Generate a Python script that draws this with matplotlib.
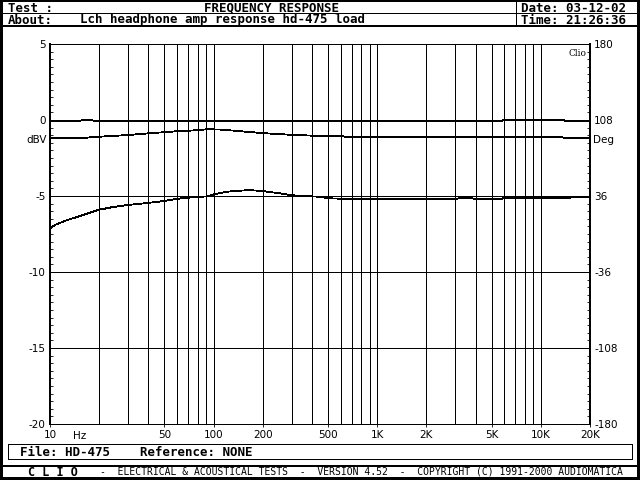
import matplotlib
matplotlib.use('Agg')
import matplotlib.pyplot as plt
from matplotlib.patches import Rectangle
from matplotlib.lines import Line2D
from matplotlib.ticker import MultipleLocator, FixedLocator, NullFormatter

plt.rcParams['lines.antialiased'] = False
plt.rcParams['patch.antialiased'] = False

# header / footer strings
test_title = "FREQUENCY RESPONSE"
about_text = "Lch headphone amp response hd-475 load"
date_text = "Date: 03-12-02"
time_text = "Time: 21:26:36"
file_text = "File: HD-475    Reference: NONE"
footer_text = "-  ELECTRICAL & ACOUSTICAL TESTS  -  VERSION 4.52  -  COPYRIGHT (C) 1991-2000 AUDIOMATICA"

# x ticks
xtick_freqs = [10, 50, 100, 200, 500, 1000, 2000, 5000, 10000, 20000]
xtick_labels = ['10', '50', '100', '200', '500', '1K', '2K', '5K', '10K', '20K']
# left (dBV) and right (Deg) ticks
db_ticks = [5, 0, -5, -10, -15, -20]
deg_ticks = [180, 108, 36, -36, -108, -180]

# curve
freq_a = [10, 15, 17, 19, 50, 1000, 5800, 5900, 13900, 14000, 20000]
db_a = [-0.06, -0.06, 0.03, -0.06, -0.06, -0.06, -0.06, -0.01, -0.01, -0.06, -0.06]

# curve just below 0 dB
freq_b = [10, 15, 20, 30, 42, 60, 77, 92, 110, 140, 165, 200, 250, 340, 480,
          620, 680, 13500, 14500, 20000]
db_b = [-1.20, -1.20, -1.10, -0.99, -0.86, -0.74, -0.68, -0.61, -0.63, -0.72,
        -0.79, -0.86, -0.93, -1.00, -1.06, -1.08, -1.14, -1.14, -1.20, -1.20]

# curve around -5 dB
freq_c = [10, 10.7, 12.3, 14.8, 17, 19.6, 23.9, 29.9, 37.9, 48.2, 60.4, 76.6,
          90.6, 101, 120, 164, 199, 229, 263, 302, 358, 428, 510, 675, 1346,
          2970, 3280, 3650, 4170, 5700, 5860, 14900, 15600, 20000]
db_c = [-7.13, -6.91, -6.64, -6.36, -6.14, -5.92, -5.74, -5.59, -5.48, -5.35,
        -5.18, -5.07, -5.03, -4.89, -4.72, -4.61, -4.67, -4.76, -4.85, -4.95,
        -5.00, -5.04, -5.15, -5.20, -5.20, -5.20, -5.12, -5.14, -5.20, -5.20,
        -5.15, -5.15, -5.04, -5.04]

W, H = 640, 480
LW = 0.6  # one pixel at 100 dpi
fig = plt.figure(figsize=(6.4, 4.8), dpi=100)
fig.patch.set_facecolor('white')


def fx(x):
    return x / W


def fy(y):
    return 1 - y / H


def hline(y, x0=0, x1=W, lw=LW):
    fig.add_artist(Line2D([fx(x0), fx(x1)], [fy(y), fy(y)], color='black', lw=lw))


def vline(x, y0, y1, lw=LW):
    fig.add_artist(Line2D([fx(x), fx(x)], [fy(y0), fy(y1)], color='black', lw=lw))


def bar(x0, y0, x1, y1):
    fig.add_artist(Rectangle((fx(x0), fy(y1)), fx(x1) - fx(x0), fy(y0) - fy(y1),
                             facecolor='black', edgecolor='none'))


# outer frame
bar(0, 0, 3, 480)
bar(637, 0, 640, 480)
bar(0, 0, 640, 1.5)
bar(0, 477, 640, 480)

# header
hline(13)
bar(0, 25, 640, 26.5)
vline(516, 0, 26)
mono_b = dict(family='DejaVu Sans Mono', weight='bold', fontsize=9, va='center')
fig.text(fx(8), fy(8), "Test :", **mono_b)
fig.text(fx(271), fy(8), test_title, ha='center', **mono_b)
fig.text(fx(521), fy(8), date_text, **mono_b)
fig.text(fx(8), fy(20), "About:", **mono_b)
fig.text(fx(80), fy(20), about_text, **mono_b)
fig.text(fx(521), fy(20), time_text, **mono_b)

# file box
fig.add_artist(Rectangle((fx(8), fy(459)), fx(632) - fx(8), fy(444) - fy(459),
                         facecolor='none', edgecolor='black', lw=LW))
fig.text(fx(20), fy(452), file_text, **mono_b)

# footer
bar(0, 465, 640, 466.5)
fig.text(fx(28), fy(472), "C L I O", family='DejaVu Sans Mono', weight='bold',
         fontsize=8.5, va='center')
fig.text(fx(100), fy(472), footer_text, family='DejaVu Sans Mono', fontsize=7,
         va='center')

# plot area
ax = fig.add_axes([fx(50), fy(424), fx(590) - fx(50), fy(44) - fy(424)])
ax.set_xscale('log')
ax.set_xlim(10, 20000)
ax.set_ylim(-20, 5)

grid_freqs = [d * m for d in (10, 100, 1000, 10000) for m in range(1, 10)
              if 10 < d * m < 20000]
for f in grid_freqs:
    ax.axvline(f, color='black', lw=LW, zorder=1)
for v in db_ticks[1:-1]:
    ax.axhline(v, color='black', lw=LW, zorder=1)

ax.plot(freq_a, db_a, color='black', lw=LW, zorder=3)
ax.plot(freq_b, db_b, color='black', lw=LW, zorder=3)
ax.plot(freq_c, db_c, color='black', lw=LW, zorder=3)

for side in ('left', 'right'):
    ax.spines[side].set_linewidth(1.4)
for side in ('top', 'bottom'):
    ax.spines[side].set_linewidth(LW)

tick_font = dict(family='DejaVu Sans', fontsize=7.5)
ax.xaxis.set_major_locator(FixedLocator(xtick_freqs))
ax.xaxis.set_minor_locator(FixedLocator([]))
ax.set_xticklabels(xtick_labels, **tick_font)
ax.xaxis.set_minor_formatter(NullFormatter())
ax.tick_params(axis='x', direction='out', length=2.5, width=LW, pad=2)

ax.set_yticks(db_ticks)
ax.set_yticklabels([str(v) for v in db_ticks], **tick_font)
ax.yaxis.set_minor_locator(MultipleLocator(0.5))
ax.tick_params(axis='y', which='major', length=0, pad=3)
ax.tick_params(axis='y', which='minor', direction='in', length=2.5, width=LW)
ax.text(-0.006, (-1.3 + 20) / 25, "dBV", transform=ax.transAxes, ha='right',
        va='center', **tick_font)
fig.text(fx(80), fy(436), "Hz", ha='center', va='center', **tick_font)

ax2 = ax.twinx()
ax2.set_ylim(-180, 180)
ax2.set_yticks(deg_ticks)
ax2.set_yticklabels([str(v) for v in deg_ticks], **tick_font)
ax2.yaxis.set_minor_locator(MultipleLocator(7.2))
ax2.tick_params(axis='y', which='major', length=0, pad=3)
ax2.tick_params(axis='y', which='minor', direction='in', length=2.5, width=LW)
for side in ax2.spines:
    ax2.spines[side].set_visible(False)
ax2.text(1.006, (89 + 180) / 360, "Deg", transform=ax2.transAxes, ha='left',
         va='center', **tick_font)
ax2.text(0.976, 0.988, "Clio", transform=ax2.transAxes, ha='center', va='top',
         family='DejaVu Serif', fontsize=6.5)

fig.savefig('out.png', dpi=100)
